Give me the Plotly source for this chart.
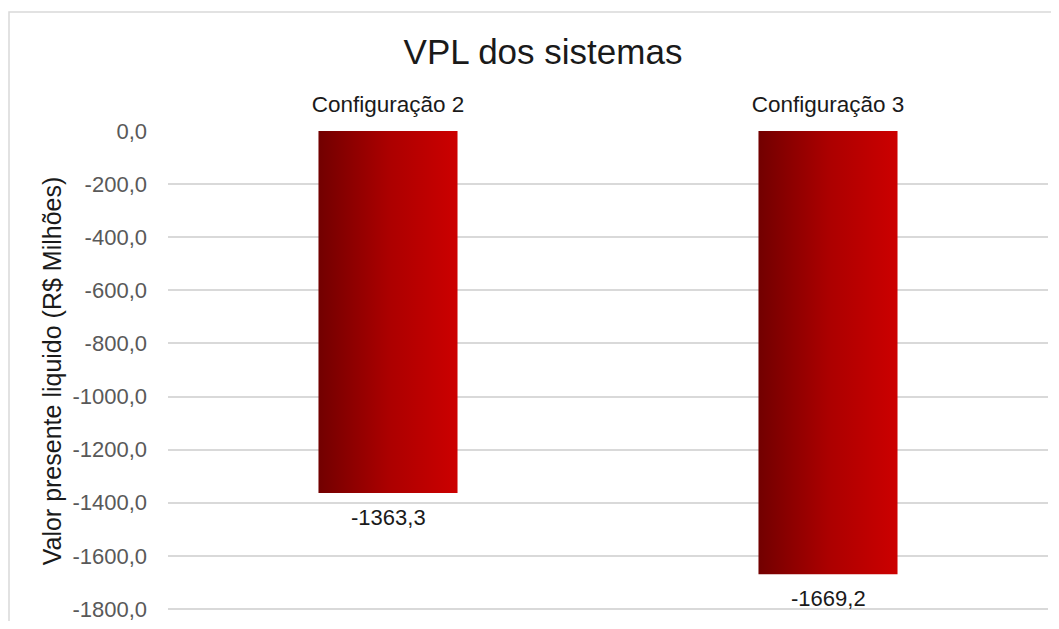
import plotly.graph_objects as go

# ---- data ----
categories = ["Configuração 2", "Configuração 3"]
vpl_values = [-1363.3, -1669.2]
y_ticks = [0, -200, -400, -600, -800, -1000, -1200, -1400, -1600, -1800]
title_text = "VPL dos sistemas"
y_title = "Valor presente liquido (R$ Milhões)"


def fmt(v):
    return f"{v:.1f}".replace(".", ",")


BAR_W = 0.316
FONT = "Liberation Sans, Arial, sans-serif"
W, H = 1043, 613

fig = go.Figure()
for i, v in enumerate(vpl_values):
    x0, x1 = i - BAR_W / 2, i + BAR_W / 2
    fig.add_trace(go.Scatter(
        x=[x0, x1, x1, x0, x0],
        y=[0, 0, v, v, 0],
        fill="toself",
        mode="none",
        fillgradient=dict(type="horizontal",
                          colorscale=[[0, "#720000"], [0.5, "#ab0000"], [1, "#cc0000"]]),
        hoverinfo="skip",
        showlegend=False,
    ))
    fig.add_annotation(x=i, y=v, text=fmt(v), showarrow=False,
                       xref="x", yref="y", yanchor="top", yshift=-10,
                       font=dict(family=FONT, size=22, color="#1a1a1a"))

fig.update_layout(
    width=W, height=H,
    paper_bgcolor="white", plot_bgcolor="white",
    margin=dict(l=160, r=3, t=123, b=10),
    title=dict(text=title_text, x=535 / W, xanchor="center", y=1 - 44 / H,
               yanchor="middle", yref="container", xref="container",
               font=dict(family=FONT, size=35, color="#1a1a1a")),
    xaxis=dict(range=[-0.5, 1.5], tickvals=list(range(len(categories))),
               ticktext=categories, side="top", showgrid=False, zeroline=False,
               showline=False, ticks="", ticklabelstandoff=14, automargin=False,
               tickfont=dict(family=FONT, size=22.5, color="#1a1a1a")),
    yaxis=dict(range=[-1807.5, 0], tickvals=y_ticks, ticktext=[fmt(v) for v in y_ticks],
               showgrid=True, gridcolor="#d9d9d9", gridwidth=1.5,
               zeroline=False, showline=False, ticks="", ticklabelstandoff=20,
               ticklabeloverflow="allow", automargin=False,
               tickfont=dict(family=FONT, size=22, color="#595959"),
               title=dict(text=y_title, standoff=3,
                          font=dict(family=FONT, size=25, color="#1a1a1a"))),
    shapes=[dict(type="rect", xref="paper", yref="paper",
                 x0=-159 / 880, x1=1.02, y0=-0.1, y1=1 + 119 / 480,
                 line=dict(color="#d9d9d9", width=1.5), fillcolor="rgba(0,0,0,0)",
                 layer="below")],
)

fig.write_html("out.html")
